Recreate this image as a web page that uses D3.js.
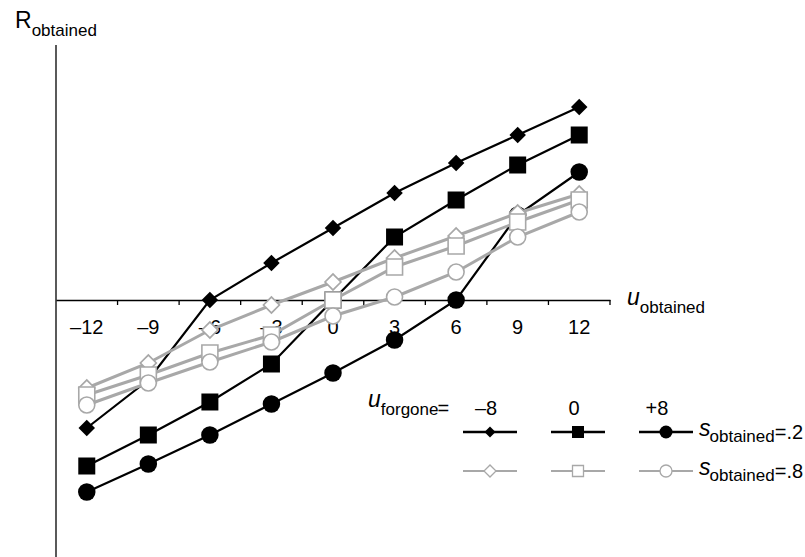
<!DOCTYPE html>
<html><head><meta charset="utf-8">
<script src="https://cdn.jsdelivr.net/npm/d3@7"></script>
<style>body{margin:0;background:#fff}svg{display:block}text{font-family:"Liberation Sans",Arial,sans-serif;fill:#000}</style>
</head><body><div id="chart"></div>
<script>
const categories = ["–12","–9","–6","–3","0","3","6","9","12"];
// s_obtained = .2 (black)
const blackDiamond = [-2.56,-1.6,0,0.74,1.44,2.14,2.74,3.3,3.86];   // u_forgone = -8
const blackSquare  = [-3.32,-2.7,-2.04,-1.28,0,1.26,2.0,2.7,3.3];   // u_forgone = 0
const blackCircle  = [-3.84,-3.28,-2.7,-2.08,-1.46,-0.8,0,1.7,2.56]; // u_forgone = +8
// s_obtained = .8 (gray)
const grayDiamond  = [-1.76,-1.26,-0.6,-0.1,0.36,0.84,1.28,1.74,2.12];
const graySquare   = [-1.9,-1.5,-1.06,-0.7,0,0.66,1.08,1.56,2.0];
const grayCircle   = [-2.1,-1.66,-1.24,-0.84,-0.32,0.06,0.56,1.26,1.76];
const legendHeads = ["–8","0","+8"];

const W=805,H=557, GRAY="#a8a8a8";
const svg=d3.select("#chart").append("svg").attr("width",W).attr("height",H);
const x=d3.scaleBand().domain(categories).range([56,610]).padding(0);
const y=d3.scaleLinear().domain([-5.14,5.1]).range([557,45]);
const cx=c=>x(c)+x.bandwidth()/2;

// y axis
svg.append("line").attr("x1",x.range()[0]).attr("x2",x.range()[0]).attr("y1",y.range()[1]).attr("y2",y.range()[0]).attr("stroke","#000").attr("stroke-width",1.3);
// x axis
const xa=svg.append("g").attr("transform",`translate(0,${y(0)})`)
  .call(d3.axisBottom(x).tickSize(0).tickSizeOuter(0).tickPadding(20));
xa.select(".domain").attr("stroke","#000").attr("stroke-width",1.3);
xa.selectAll("text").attr("font-size",20).attr("font-family","Liberation Sans, Arial, sans-serif");
d3.range(1,categories.length+1).forEach(i=>{
  const px=x.range()[0]+i*x.bandwidth();
  svg.append("line").attr("x1",px).attr("x2",px).attr("y1",y(0)).attr("y2",y(0)+5).attr("stroke","#000").attr("stroke-width",1.3);
});

const series=[
 {v:blackDiamond,shape:"diamond",color:"#000",fill:"#000",lw:2.2,size:16.5},
 {v:blackSquare,shape:"square",color:"#000",fill:"#000",lw:2.2,size:17},
 {v:blackCircle,shape:"circle",color:"#000",fill:"#000",lw:2.2,size:17.5},
 {v:grayDiamond,shape:"diamond",color:GRAY,fill:"#fff",lw:3,size:16},
 {v:graySquare,shape:"square",color:GRAY,fill:"#fff",lw:3,size:16},
 {v:grayCircle,shape:"circle",color:GRAY,fill:"#fff",lw:3,size:16}
];
function marker(g,shape,size,px,py,fill,stroke,sw){
  let type,area,rot=0;
  if(shape==="circle"){type=d3.symbolCircle;area=Math.PI*(size/2)**2;}
  else if(shape==="square"){type=d3.symbolSquare;area=size*size;}
  else {type=d3.symbolSquare;area=(size/Math.SQRT2)**2;rot=45;}
  g.append("path").attr("d",d3.symbol().type(type).size(area)())
   .attr("transform",`translate(${px},${py}) rotate(${rot})`)
   .attr("fill",fill).attr("stroke",stroke).attr("stroke-width",sw);
}
const line=d3.line().x((d,i)=>cx(categories[i])).y(d=>y(d));
series.forEach(s=>{
  const g=svg.append("g");
  g.append("path").attr("d",line(s.v)).attr("fill","none").attr("stroke",s.color).attr("stroke-width",s.lw);
  s.v.forEach((d,i)=>marker(g,s.shape,s.size,cx(categories[i]),y(d),s.fill,s.fill==="#fff"?s.color:"none",1.6));
});

// axis labels
const t1=svg.append("text").attr("x",15).attr("y",28).attr("font-size",23);
t1.append("tspan").text("R");
t1.append("tspan").attr("font-size",17).attr("dy",8).text("obtained");
const t2=svg.append("text").attr("x",627).attr("y",305).attr("font-size",23);
t2.append("tspan").attr("font-style","italic").text("u");
t2.append("tspan").attr("font-size",17).attr("dy",8).text("obtained");

// legend
const t3=svg.append("text").attr("x",368).attr("y",407).attr("font-size",23);
t3.append("tspan").attr("font-style","italic").text("u");
t3.append("tspan").attr("font-size",17).attr("dy",8).text("forgone");
t3.append("tspan").attr("font-size",20).attr("dx",-1).text("=");
const legX=[490,578,666];
legendHeads.forEach((h,i)=>svg.append("text").attr("x",legX[i]-(i===2?9:4)).attr("y",415).attr("font-size",20).attr("text-anchor","middle").text(h));
const legRows=[{y:432,color:"#000",fill:"#000",lw:2.6,sizes:[11,12,13],label:".2"},{y:471,color:GRAY,fill:"#fff",lw:2,sizes:[12,11,12],label:".8"}];
const shapes=["diamond","square","circle"];
legRows.forEach(r=>{
  legX.forEach((lx,i)=>{
    svg.append("line").attr("x1",lx-27).attr("x2",lx+27).attr("y1",r.y).attr("y2",r.y).attr("stroke",r.color).attr("stroke-width",r.lw);
    marker(svg,shapes[i],r.sizes[i],lx,r.y,r.fill,r.fill==="#fff"?r.color:"none",1.3);
  });
  const t=svg.append("text").attr("x",699).attr("y",r.y+4).attr("font-size",23);
  t.append("tspan").attr("font-style","italic").text("s");
  t.append("tspan").attr("font-size",17).attr("dy",6).attr("dx",-1).text("obtained");
  t.append("tspan").attr("font-size",20).attr("dy",-3).text("=" + r.label);
});
</script></body></html>
